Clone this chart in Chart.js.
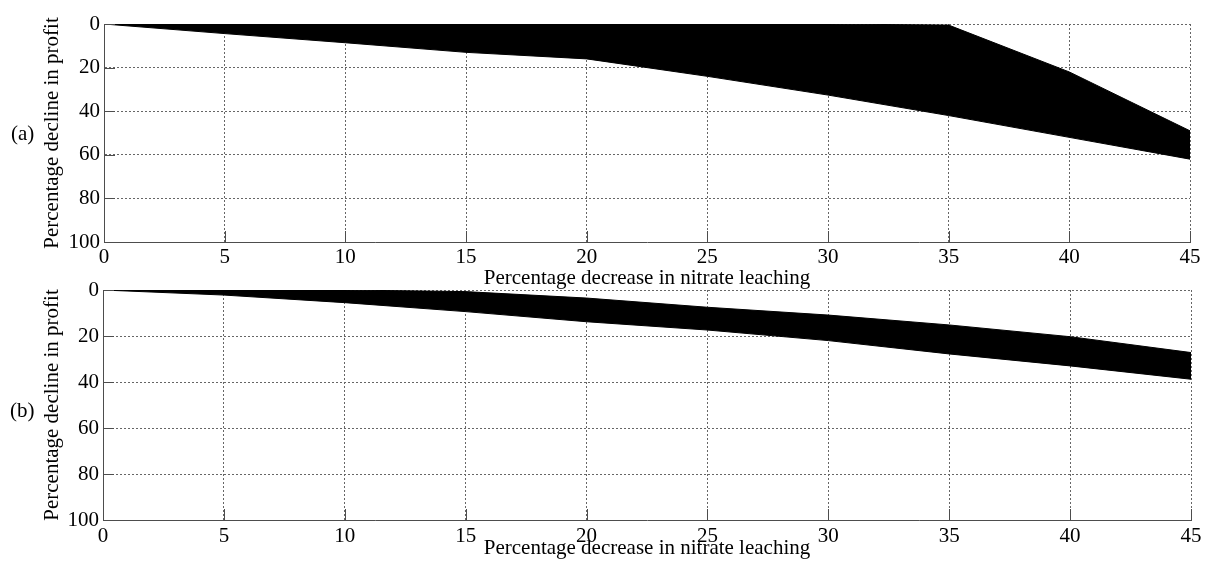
<!DOCTYPE html>
<html><head><meta charset="utf-8">
<script src="https://cdn.jsdelivr.net/npm/chart.js@4/dist/chart.umd.min.js"></script>
<style>
html,body{margin:0;padding:0;background:#fff;}
#wrap{position:relative;width:1208px;height:575px;overflow:hidden;background:#fff;}
canvas{position:absolute;left:0;}
.lab{position:absolute;font-family:"Liberation Serif",serif;font-size:21px;line-height:21px;color:#000;white-space:nowrap;}
</style></head><body>
<div id="wrap">
<canvas id="ca" width="1208" height="293" style="top:0;width:1208px;height:293px"></canvas>
<canvas id="cb" width="1208" height="309" style="top:266px;width:1208px;height:309px"></canvas>
<div class="lab" style="left:11px;top:123px">(a)</div>
<div class="lab" style="left:10px;top:400px">(b)</div>
</div>
<script>
// ---- data ----
const xValues = [0, 5, 10, 15, 20, 25, 30, 35, 40, 45];
const panelAUpper = [0, 0, 0, 0, 0, 0, 0, 0.5, 22, 49];
const panelALower = [0, 4.4, 8.6, 13, 16, 24, 32.6, 42, 52, 62];
const panelBUpper = [0, 0, 0, 0.7, 3.5, 7.5, 10.9, 15.2, 20.3, 27.2];
const panelBLower = [0, 2.2, 5.5, 9.4, 13.8, 17.4, 22, 27.8, 33, 38.8];
const xTitle = 'Percentage decrease in nitrate leaching';
const yTitle = 'Percentage decline in profit';

const FONT = {family: '"Liberation Serif", serif', size: 21};
const AXIS = '#4d4d4d';
const GRID = '#666';

const innerTicks = {
  id: 'innerTicks',
  afterDatasetsDraw(chart) {
    const {ctx, chartArea: a, scales: {x, y}} = chart;
    ctx.save();
    ctx.strokeStyle = AXIS; ctx.lineWidth = 1; ctx.setLineDash([]);
    ctx.beginPath();
    x.ticks.forEach(t => {
      const px = Math.round(x.getPixelForValue(t.value)) + 0.5;
      ctx.moveTo(px, a.bottom); ctx.lineTo(px, a.bottom - 11);
    });
    y.ticks.forEach(t => {
      const py = Math.round(y.getPixelForValue(t.value)) + 0.5;
      ctx.moveTo(a.left, py); ctx.lineTo(a.left + 11, py);
    });
    ctx.stroke();
    ctx.restore();
  }
};

function pts(vals) { return vals.map((v, i) => ({x: xValues[i], y: v})); }

function makePanel(id, upper, lower, g) {
  return new Chart(document.getElementById(id), {
    type: 'line',
    data: {
      datasets: [
        {data: pts(upper), borderColor: '#000', borderWidth: 1, pointRadius: 0, fill: false, tension: 0},
        {data: pts(lower), borderColor: '#000', borderWidth: 1, pointRadius: 0, fill: '-1', backgroundColor: '#000', tension: 0}
      ]
    },
    options: {
      responsive: false, animation: false, devicePixelRatio: 1,
      layout: {padding: {left: 0, right: g.padRight, top: 24, bottom: 0}},
      plugins: {legend: {display: false}, tooltip: {enabled: false}},
      scales: {
        x: {
          type: 'linear', min: 0, max: 45,
          ticks: {stepSize: 5, font: FONT, color: '#000', padding: g.xTickPad, maxRotation: 0, autoSkip: false},
          grid: {color: GRID, lineWidth: 1, drawTicks: false},
          border: {display: true, color: AXIS, width: 1, dash: [2, 2]},
          title: {display: true, text: xTitle, font: FONT, color: '#000', padding: {top: 0, bottom: g.xTitlePad}},
          afterFit(s) { s.height = g.xHeight; }
        },
        y: {
          type: 'linear', reverse: true, min: 0, max: 100,
          ticks: {stepSize: 20, font: FONT, color: '#000', padding: 4},
          grid: {color: GRID, lineWidth: 1, drawTicks: false},
          border: {display: true, color: AXIS, width: 1, dash: [2, 2]},
          title: {display: true, text: yTitle, font: FONT, color: '#000', padding: {top: 40, bottom: 0}},
          afterFit(s) { s.width = g.yWidth; }
        }
      }
    },
    plugins: [innerTicks]
  });
}

makePanel('ca', panelAUpper, panelALower, {padRight: 18, xTickPad: 3, xTitlePad: 2, xHeight: 51, yWidth: 104});
makePanel('cb', panelBUpper, panelBLower, {padRight: 17, xTickPad: 4, xTitlePad: 14, xHeight: 55, yWidth: 103});
</script>
</body></html>
